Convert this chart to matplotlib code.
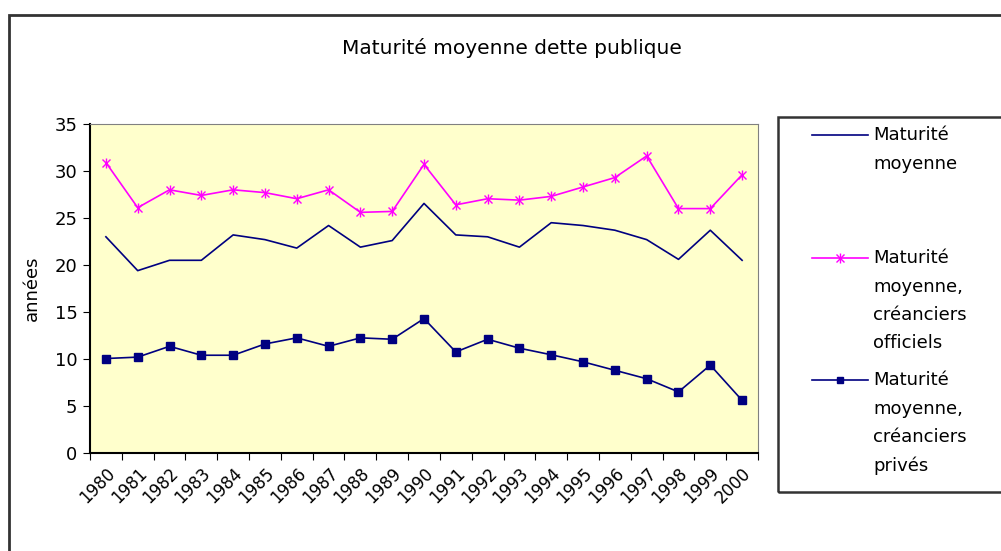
import numpy as np
import matplotlib
matplotlib.use("Agg")
import matplotlib.pyplot as plt
from matplotlib.lines import Line2D
from matplotlib.patches import Rectangle

years = [str(y) for y in range(1980, 2001)]
moyenne = [23.0, 19.4, 20.5, 20.5, 23.2, 22.7, 21.8, 24.2, 21.9, 22.6,
           26.55, 23.2, 23.0, 21.9, 24.5, 24.2, 23.7, 22.7, 20.6, 23.7, 20.5]
officiels = [30.9, 26.1, 28.0, 27.4, 28.0, 27.7, 27.05, 28.0, 25.6, 25.7,
             30.7, 26.4, 27.05, 26.9, 27.3, 28.3, 29.3, 31.6, 26.0, 26.0, 29.6]
prives = [10.05, 10.2, 11.35, 10.4, 10.4, 11.6, 12.25, 11.35, 12.25, 12.1,
          14.3, 10.75, 12.1, 11.15, 10.45, 9.7, 8.8, 7.9, 6.5, 9.35, 5.6]
labels = ["Maturité\nmoyenne",
          "Maturité\nmoyenne,\ncréanciers\nofficiels",
          "Maturité\nmoyenne,\ncréanciers\nprivés"]

NAVY = "#000080"
PINK = "#FF00FF"
plt.rcParams["font.family"] = ["DejaVu Sans"]

W, H = 1001, 551
fig = plt.figure(figsize=(W / 100, H / 100), dpi=100)
ax = fig.add_axes([90 / W, 1 - 453 / H, (758 - 90) / W, (453 - 124) / H])
ax.set_facecolor("#FFFFCC")

x = np.arange(len(years))
ax.plot(x, moyenne, color=NAVY, lw=1.2)
ax.plot(x, officiels, color=PINK, lw=1.2, marker="x", ms=6, mew=1.0)
ax.plot(x, officiels, color=PINK, lw=0, marker="|", ms=7, mew=1.0)
ax.plot(x, prives, color=NAVY, lw=1.2, marker="s", ms=5.5)

ax.set_xlim(-0.5, len(years) - 0.5)
ax.set_ylim(0, 35)
ax.set_yticks(range(0, 36, 5))
ax.set_xticks(np.arange(-0.5, len(years), 1.0))
ax.set_xticklabels([])
ax.set_xticks(x, minor=True)
ax.set_xticklabels(years, minor=True, rotation=45, ha="right",
                   rotation_mode="anchor", fontsize=12)
ax.tick_params(axis="x", which="major", direction="out", length=5, color="black")
ax.tick_params(axis="x", which="minor", length=0, pad=8)
ax.tick_params(axis="y", direction="out", length=5, labelsize=13, pad=4)
for side in ("top", "right"):
    ax.spines[side].set_color("#808080")
for side in ("left", "bottom"):
    ax.spines[side].set_color("black")
    ax.spines[side].set_linewidth(1.5)

ax.set_ylabel("années", fontsize=13, labelpad=10)

fig.text(512 / W, 1 - 48 / H, "Maturité moyenne dette publique",
         ha="center", va="center", fontsize=14.5)

# outer chart frame
fig.patches.append(Rectangle((9 / W, -0.1), 1.2, 1 - 15 / H + 0.1,
                             transform=fig.transFigure, fill=False,
                             ec="#333333", lw=2))
# legend box
fig.patches.append(Rectangle((778 / W, 1 - 492 / H), 0.5, (492 - 117) / H,
                             transform=fig.transFigure, fill=False,
                             ec="#333333", lw=1.8))
leg_y = [135, 258, 380]
colors = [NAVY, PINK, NAVY]
markers = [None, "x", "s"]
for yy, lab, c, m in zip(leg_y, labels, colors, markers):
    fy = 1 - yy / H
    fig.add_artist(Line2D([812 / W, 868 / W], [fy, fy], color=c, lw=1.2))
    if m is not None:
        fig.add_artist(Line2D([840 / W], [fy], color=c, lw=0, marker=m,
                              ms=6 if m == "x" else 5))
    if m == "x":
        fig.add_artist(Line2D([840 / W], [fy], color=c, lw=0, marker="|", ms=7))
    fig.text(873 / W, fy + 9 / H, lab, ha="left", va="top", fontsize=13,
             linespacing=1.75)

fig.savefig("out.png", dpi=100)
